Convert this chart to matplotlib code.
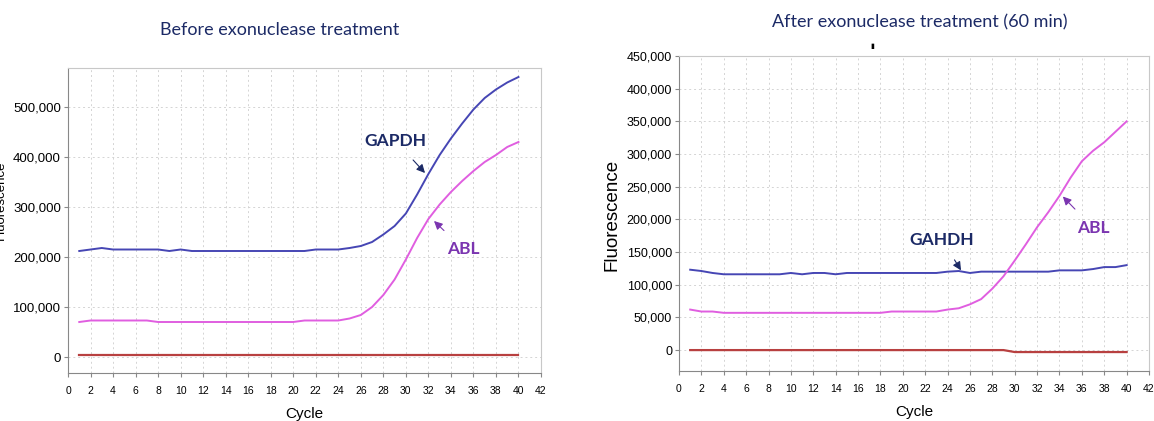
import numpy as np
import matplotlib
matplotlib.use("Agg")
import matplotlib.pyplot as plt
from matplotlib.ticker import FuncFormatter, MultipleLocator

cycles = list(range(1, 41))

# before exonuclease treatment
before_gapdh = [212e3, 215e3, 218e3, 215e3, 215e3, 215e3, 215e3, 215e3, 212e3, 215e3,
                212e3, 212e3, 212e3, 212e3, 212e3, 212e3, 212e3, 212e3, 212e3, 212e3,
                212e3, 215e3, 215e3, 215e3, 218e3, 222e3, 230e3, 245e3, 262e3, 287e3,
                325e3, 366e3, 404e3, 437e3, 467e3, 495e3, 518e3, 535e3, 549e3, 560e3]
before_abl = [70e3, 73e3, 73e3, 73e3, 73e3, 73e3, 73e3, 70e3, 70e3, 70e3,
              70e3, 70e3, 70e3, 70e3, 70e3, 70e3, 70e3, 70e3, 70e3, 70e3,
              73e3, 73e3, 73e3, 73e3, 77e3, 84e3, 100e3, 124e3, 155e3, 195e3,
              238e3, 276e3, 305e3, 330e3, 352e3, 372e3, 390e3, 404e3, 420e3, 430e3]
before_ntc = [5e3] * 40

# after exonuclease treatment (60 min)
after_gapdh = [123e3, 121e3, 118e3, 116e3, 116e3, 116e3, 116e3, 116e3, 116e3, 118e3,
               116e3, 118e3, 118e3, 116e3, 118e3, 118e3, 118e3, 118e3, 118e3, 118e3,
               118e3, 118e3, 118e3, 120e3, 121e3, 118e3, 120e3, 120e3, 120e3, 120e3,
               120e3, 120e3, 120e3, 122e3, 122e3, 122e3, 124e3, 127e3, 127e3, 130e3]
after_abl = [62e3, 59e3, 59e3, 57e3, 57e3, 57e3, 57e3, 57e3, 57e3, 57e3,
             57e3, 57e3, 57e3, 57e3, 57e3, 57e3, 57e3, 57e3, 59e3, 59e3,
             59e3, 59e3, 59e3, 62e3, 64e3, 70e3, 78e3, 94e3, 113e3, 137e3,
             162e3, 188e3, 211e3, 236e3, 264e3, 289e3, 305e3, 318e3, 334e3, 350e3]
after_ntc = [0] * 29 + [-3e3] * 11

BLUE = "#4646b4"
PINK = "#e05ee0"
RED = "#b84040"
NAVY = "#1c2a66"
PURPLE = "#7b35b0"

fig = plt.figure(figsize=(11.54, 4.21), dpi=100)
W, H = 1154, 421


def box(x0, x1, y0, y1):
    return [x0 / W, 1 - y1 / H, (x1 - x0) / W, (y1 - y0) / H]


comma = FuncFormatter(lambda v, p: f"{int(v):,}")


def style(ax, ymin, ymax, ystep, ysize):
    ax.set_xlim(0, 42)
    ax.set_ylim(ymin, ymax)
    ax.xaxis.set_major_locator(MultipleLocator(2))
    ax.yaxis.set_major_locator(MultipleLocator(ystep))
    ax.yaxis.set_major_formatter(comma)
    ax.grid(True, color="#d4d4d4", linestyle=(0, (2, 3)), linewidth=0.7)
    for s in ax.spines.values():
        s.set_color("#c8c8c8")
    ax.spines["left"].set_color("#888888")
    ax.spines["bottom"].set_color("#888888")
    ax.tick_params(axis="x", labelsize=7.5, length=3, color="#888888", pad=6)
    ax.tick_params(axis="y", labelsize=ysize, length=3, color="#888888", pad=2)
    for lab in ax.get_xticklabels() + ax.get_yticklabels():
        lab.set_family("Liberation Sans")
    ax.set_xlabel("Cycle", fontsize=11, family="Liberation Sans", labelpad=8)


def label(ax, s, xy, xytext, color):
    ax.annotate(s, xy=xy, xytext=xytext, fontsize=12.5, fontweight="bold", color=color,
                family="Lato", ha="center", va="center",
                arrowprops=dict(arrowstyle="-|>", color=color, lw=0.8, shrinkA=8, shrinkB=0))


# left panel
ax1 = fig.add_axes(box(68, 541, 68, 373))
ax1.plot(cycles, before_ntc, color=RED, lw=1.6)
ax1.plot(cycles, before_gapdh, color=BLUE, lw=1.4)
ax1.plot(cycles, before_abl, color=PINK, lw=1.4)
style(ax1, -32000, 578000, 100000, 9.5)
label(ax1, "GAPDH", (31.7, 368e3), (29.1, 432e3), NAVY)
label(ax1, "ABL", (32.5, 272e3), (35.1, 216e3), PURPLE)
fig.text(280 / W, 1 - 30 / H, "Before exonuclease treatment", fontsize=13, color=NAVY,
         family="Lato", ha="center", va="center")
# y label partly cut off by the left edge, as in the original
fig.text(7 / W, 1 - 200 / H, "Fluorescence", fontsize=9.5, family="Liberation Sans",
         rotation=90, ha="right", va="center")

# right panel
ax2 = fig.add_axes(box(679, 1149, 56, 371))
ax2.plot(cycles, after_ntc, color=RED, lw=1.6)
ax2.plot(cycles, after_gapdh, color=BLUE, lw=1.4)
ax2.plot(cycles, after_abl, color=PINK, lw=1.4)
style(ax2, -32000, 450000, 50000, 9)
label(ax2, "GAHDH", (25.2, 122e3), (23.5, 169e3), NAVY)
label(ax2, "ABL", (34.3, 235e3), (37.0, 187e3), PURPLE)
fig.text(920 / W, 1 - 22 / H, "After exonuclease treatment (60 min)", fontsize=13, color=NAVY,
         family="Lato", ha="center", va="center")
fig.text(612 / W, 1 - 215 / H, "Fluorescence", fontsize=13.5, family="Liberation Sans",
         rotation=90, ha="center", va="center")
fig.text(872 / W, 1 - 46 / H, "\u25ae", fontsize=5, color="black", ha="center", va="center")

fig.savefig("out.png", dpi=100)
